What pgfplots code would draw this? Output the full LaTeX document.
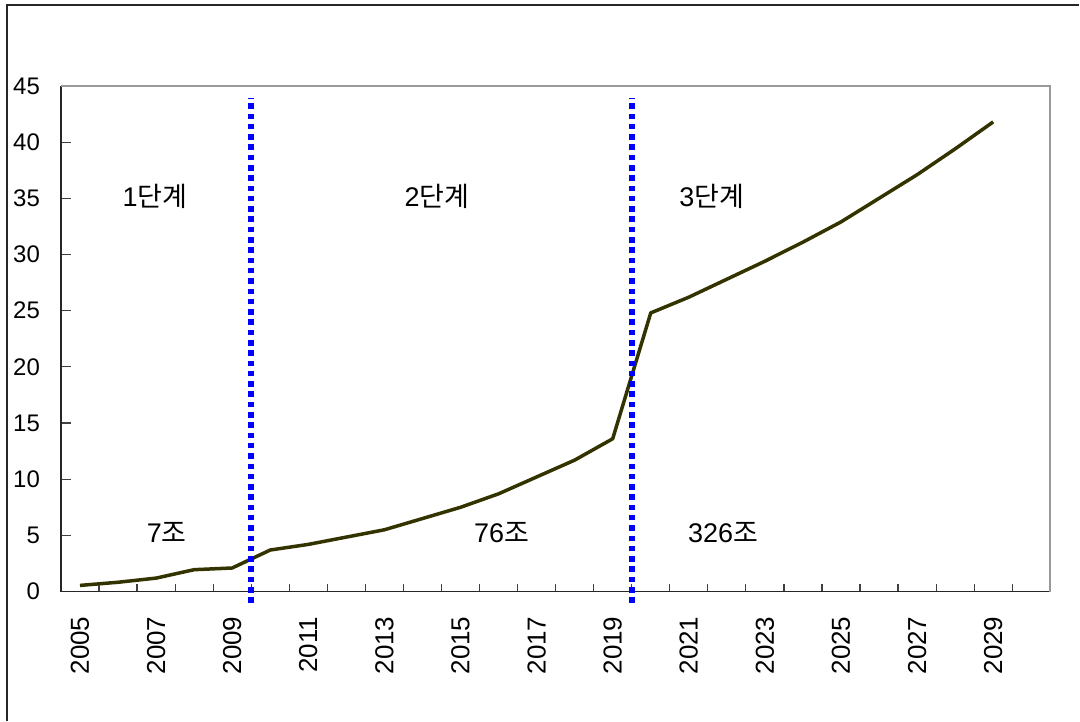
\documentclass[border=0pt]{standalone}
\usepackage{fontspec}
\setmainfont{Liberation Sans}
\newfontfamily\kr{Noto Sans CJK KR}
\usepackage{pgfplots}
\pgfplotsset{compat=1.18}
\definecolor{linecol}{RGB}{51,51,0}
\begin{document}
\begin{tikzpicture}
\begin{axis}[
  name=ax, at={(0,0)}, anchor=south west,
  scale only axis, width=495pt, height=253pt,
  xmin=-0.5, xmax=25.5, ymin=0, ymax=45,
  axis lines=left,
  axis line style={-, line width=0.9pt, draw=black!85},
  tick align=inside,
  major tick length=5pt, minor tick length=4pt,
  every tick/.style={black!75, line width=0.6pt},
  xtick={0,2,...,24},
  xticklabels={2005,2007,2009,2011,2013,2015,2017,2019,2021,2023,2025,2027,2029},
  minor xtick={-0.5,0.5,...,25.5},
  every major x tick/.append style={draw=none},
  ytick={0,5,...,45},
  /pgf/number format/assume math mode=true,
  xticklabel style={rotate=90, anchor=east, xshift=-9pt, font=\fontsize{13}{15}\selectfont},
  yticklabel style={xshift=-7pt, font=\fontsize{12}{14}\selectfont},
  clip=false,
]
\addplot[linecol, line width=1.75pt, line join=round] coordinates {
(0,0.55) (1,0.83) (2,1.2) (3,1.95) (4,2.1) (5,3.7) (6,4.2) (7,4.85) (8,5.5)
(9,6.5) (10,7.5) (11,8.7) (12,10.2) (13,11.7) (14,13.6) (15,24.8) (16,26.2)
(17,27.8) (18,29.4) (19,31.1) (20,32.9) (21,35.0) (22,37.1) (23,39.4) (24,41.8)
};
\addplot[blue, line width=3pt, dash pattern=on 2.75pt off 2.4pt] coordinates {(4.5,-1) (4.5,43.9)};
\addplot[blue, line width=3pt, dash pattern=on 2.75pt off 2.4pt] coordinates {(14.5,-1) (14.5,43.9)};
\draw[gray!80, line width=0.9pt] (rel axis cs:0,1) -- (rel axis cs:1,1) -- (rel axis cs:1,0);
\begin{scope}[every node/.style={font=\fontsize{13.5}{16}\selectfont}]
\node at (axis cs:1.97,35.2) {1{\kr 단계}};
\node at (axis cs:9.38,35.2) {2{\kr 단계}};
\node at (axis cs:16.6,35.2) {3{\kr 단계}};
\node at (axis cs:2.28,5.25) {7{\kr 조}};
\node at (axis cs:11.08,5.25) {76{\kr 조}};
\node at (axis cs:16.9,5.25) {326{\kr 조}};
\end{scope}
\end{axis}
\draw[line width=0.75pt, black!85] (-27pt,-64.5pt) -- (-27pt,293.5pt) -- (509.5pt,293.5pt);
\path (-30.5pt,-64.5pt) rectangle (509.5pt,296pt);
\end{tikzpicture}
\end{document}
